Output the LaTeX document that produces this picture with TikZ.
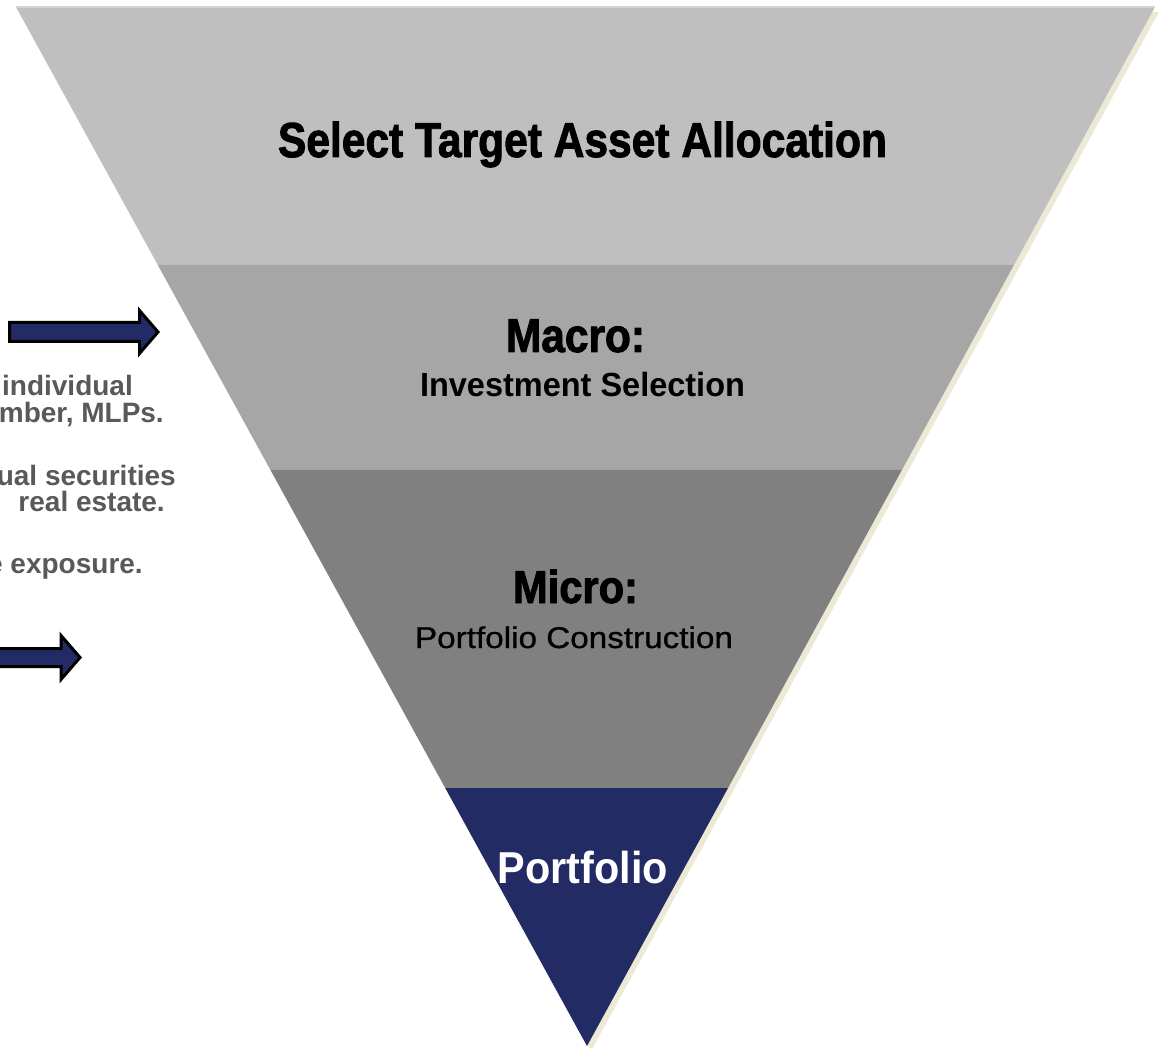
\documentclass[tikz,border=0pt]{standalone}
\usepackage{fontspec}
\setmainfont{Liberation Sans}
\newfontfamily\heavyfont[FakeBold=2]{Liberation Sans Bold}
\newfontfamily\mediumfont[FakeBold=0.8]{Liberation Sans}
\usetikzlibrary{calc}
\definecolor{bandA}{RGB}{191,191,191}
\definecolor{bandB}{RGB}{166,166,166}
\definecolor{bandC}{RGB}{128,128,128}
\definecolor{navy}{RGB}{35,43,100}
\definecolor{shadowc}{RGB}{236,234,214}
\definecolor{sidegray}{RGB}{89,89,89}
\definecolor{topline}{RGB}{210,210,210}
\newcommand\fitw[2]{\resizebox{#1}{\height}{#2}}
\begin{document}
\begin{tikzpicture}[x=1pt,y=-1pt,
  textlabel/.style={inner sep=0pt, anchor=base},
  sidetext/.style={inner sep=0pt, anchor=base east, text=sidegray, font=\bfseries\fontsize{28}{30}\selectfont},
  blockarrow/.style={draw=black, line width=3pt, fill=navy, line join=miter}]
\useasboundingbox (0,0) rectangle (1163,1048);
\clip (0,0) rectangle (1163,1048);
\fill[white] (0,0) rectangle (1163,1048);
\coordinate (A) at (16,7);
\coordinate (B) at (1155,7);
\coordinate (T) at (587,1046);
\coordinate (L1) at ($(A)!0.2483!(T)$);
\coordinate (R1) at ($(B)!0.2483!(T)$);
\coordinate (L2) at ($(A)!0.4456!(T)$);
\coordinate (R2) at ($(B)!0.4456!(T)$);
\coordinate (L3) at ($(A)!0.7517!(T)$);
\coordinate (R3) at ($(B)!0.7517!(T)$);
% shadow
\fill[shadowc] ($(A)+(4,5)$) -- ($(B)+(4,5)$) -- ($(T)+(4,5)$) -- cycle;
% bands
\fill[bandA] (A) -- (B) -- (R1) -- (L1) -- cycle;
\fill[bandB] (L1) -- (R1) -- (R2) -- (L2) -- cycle;
\fill[bandC] (L2) -- (R2) -- (R3) -- (L3) -- cycle;
\fill[navy] (L3) -- (R3) -- (T) -- cycle;
\draw[topline, line width=1.5pt] (A) -- (B);
% texts in funnel
\node[textlabel] (title) at (582.5,157) {\fitw{609pt}{\heavyfont\fontsize{49}{49}\selectfont Select Target Asset Allocation}};
\node[textlabel] (macro) at (575.5,352) {\fitw{139pt}{\heavyfont\fontsize{47.5}{47.5}\selectfont Macro:}};
\node[textlabel] (invsel) at (582.5,397) {\fitw{325pt}{\bfseries\fontsize{33.5}{33.5}\selectfont Investment Selection}};
\node[textlabel] (micro) at (575.5,603) {\fitw{125pt}{\heavyfont\fontsize{46}{46}\selectfont Micro:}};
\node[textlabel] (portcons) at (574,648) {\fitw{318pt}{\mediumfont\fontsize{30}{30}\selectfont Portfolio Construction}};
\node[textlabel, text=white] (portfolio) at (583,883) {\fitw{170pt}{\bfseries\fontsize{44.7}{44.7}\selectfont Portfolio}};
% side text
\node[sidetext] (s1) at (133,396) {individual};
\node[sidetext] (s2) at (164,423) {mber, MLPs.};
\node[sidetext] (s3) at (176,486) {ual securities};
\node[sidetext] (s4) at (165,512) {real estate.};
\node[sidetext] (s5) at (143,573) {e exposure.};
% arrows
\draw[blockarrow] (9.5,322.5) -- (139.5,322.5) -- (139.5,310.5) -- (158,332) -- (139.5,353.5) -- (139.5,341.5) -- (9.5,341.5) -- cycle;
\draw[blockarrow] (-10,648.5) -- (61,648.5) -- (61,635.5) -- (80,657.5) -- (61,679.5) -- (61,666.5) -- (-10,666.5) -- cycle;
\end{tikzpicture}
\end{document}
